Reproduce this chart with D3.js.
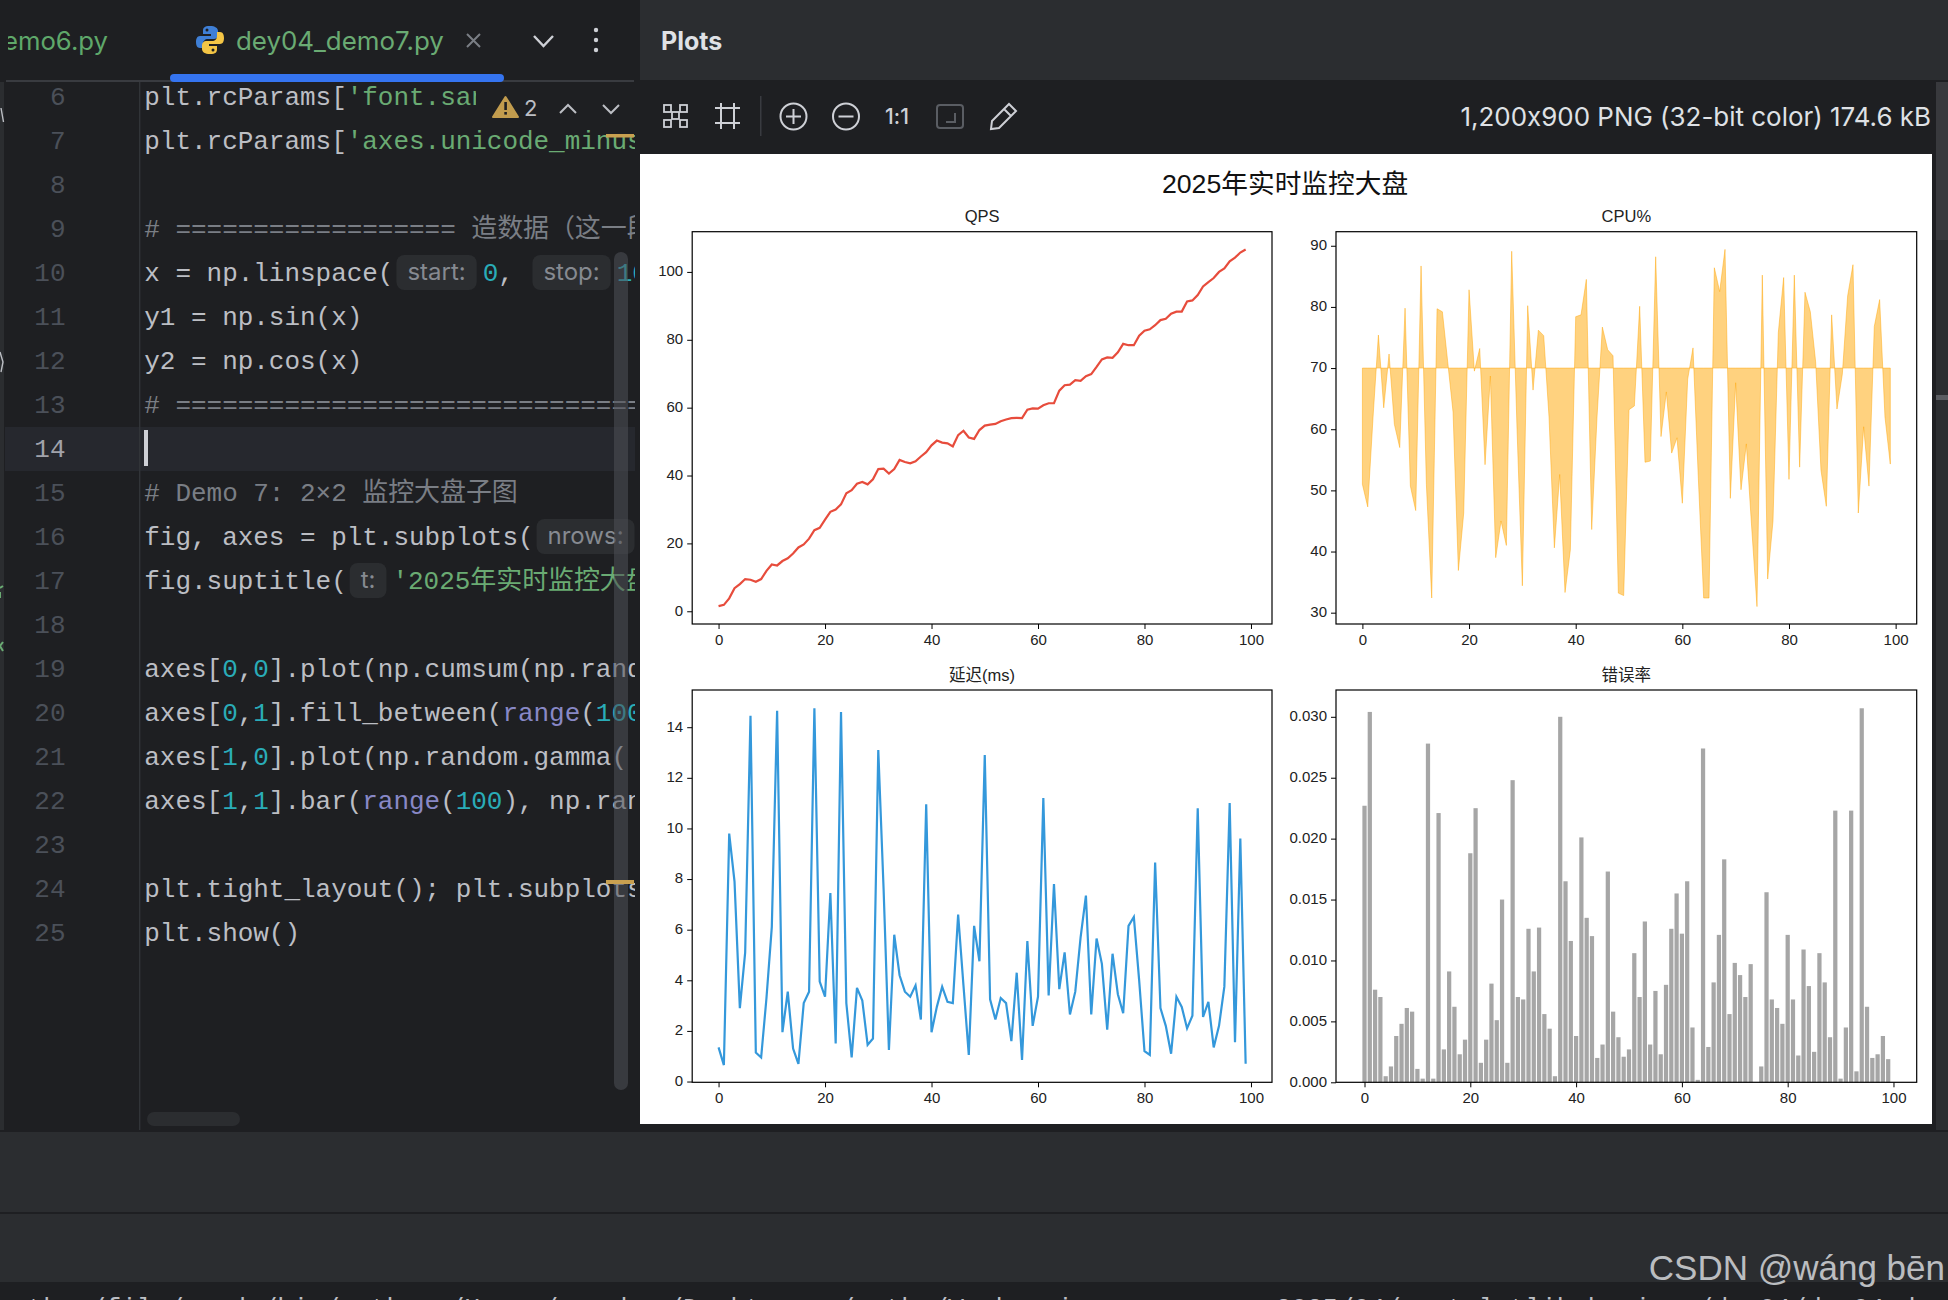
<!DOCTYPE html>
<html>
<head>
<meta charset="utf-8">
<script src="https://cdn.jsdelivr.net/npm/d3@7"></script>
<style>
  html, body { margin: 0; padding: 0; background: #1e1f22; }
  svg { display: block; }
  text { font-family: "Liberation Sans", "Noto Sans CJK SC", sans-serif; }
  .ui { font-family: Inter, "Noto Sans CJK SC", sans-serif; font-feature-settings: "calt" 0; }
  .code { font-family: "Liberation Mono", "Noto Sans CJK SC", monospace; font-size: 26px; }
  .axis path, .axis line { stroke: #000; stroke-width: 1; }
  .axis text { font-size: 15px; fill: #222; font-family: "Liberation Sans", sans-serif; }
</style>
</head>
<body>
<script>
// chart values
const qps = [1.5,1.9,3.8,6.8,8,9.5,9.3,8.7,9.5,11.9,13.8,13.5,14.8,15.6,17,18.8,19.7,21.4,23.9,24.6,27,29.3,30,31.5,34.8,35.7,37.6,38.1,37.4,38.9,41.9,42,40.6,41.9,44.6,44,43.6,44.2,45.6,46.9,48.9,50.3,49.7,49.5,48.6,51.9,53.2,51.2,50.8,53.4,54.7,55,55.2,56,56.5,56.9,57,56.9,59.4,59.8,59.7,60.7,61.3,61.3,65,66.6,66.8,68.1,67.9,69.3,69.9,72,74.2,74.8,74.7,76.3,78.8,78.4,78.4,81.2,82.7,83.1,84.3,85.8,86.2,87.7,88.3,88.3,91.3,91.6,93.2,95.7,97,98.2,100,101,103.1,104.2,105.7,106.6];
const cpu = [51,47.3,62,75.4,63.5,72.3,60.8,57,79.8,50.7,46.7,86.7,51,32.4,79.7,79.2,71,62.8,36.9,46.3,82.8,69.5,73.2,54.2,68.7,39,45,41,89.1,60,34.4,80.2,66.4,76.2,75.3,62,40.6,52.6,33.3,40.3,78.4,78.7,84.5,43.6,62,76.7,73,72,33.2,32.8,63.2,63.8,80.1,54.6,54.8,88.2,58.8,66.1,56.1,58.6,47.9,68.2,73.3,52,32.4,32.4,86.4,82.5,89.4,48.7,67.6,50.1,57.6,44,31,85.2,35.5,45,75.8,84.8,51.8,85.2,53.8,82.4,79.2,71,53.3,47.4,78.7,63.3,69,81.8,86.9,46.3,60.4,50.7,76.8,81.2,62,54.3];
const cpuBase = 70;
const latency = [1.35,0.65,9.8,7.9,2.9,5.1,14.45,1.15,0.95,3.3,6.1,14.65,1.95,3.55,1.3,0.7,3.1,3.55,14.75,3.95,3.35,7.45,1.5,14.6,3.1,0.95,3.7,3.2,1.45,1.7,13.1,7.6,1.25,5.8,4.2,3.55,3.35,3.8,2.45,10.95,1.95,2.95,3.75,3.15,3.1,6.6,3.8,1.05,6.15,4.75,12.9,3.25,2.45,3.3,3.1,1.6,4.3,0.85,5.55,2.2,3.35,11.2,3.4,7.8,3.65,5.1,2.65,3.55,5.7,7.35,2.65,5.65,4.65,2.05,5.05,3.45,2.7,6.15,6.5,4,1.2,1.05,8.65,2.9,2.2,1.1,3.35,2.95,2.1,2.6,10.8,2.55,3.15,1.35,2.2,3.75,11,1.55,9.6,0.7];
const errorRate = [.0227,.0304,.0076,.007,.0005,.0013,.0038,.0048,.0061,.0058,.0011,.0003,.0278,.0003,.0221,.0027,.0091,.0062,.0023,.0035,.0188,.0225,.0016,.0035,.0081,.0051,.015,.0016,.0248,.007,.0068,.0126,.0091,.0127,.0056,.0044,.0005,.03,.0165,.0116,.0038,.0201,.0135,.012,.002,.0031,.0173,.0058,.0037,.0021,.0027,.0106,.007,.0132,.0031,.0075,.0023,.008,.0126,.0155,.0122,.0165,.0045,.0002,.0274,.0029,.0082,.0121,.0183,.0056,.0098,.0088,.007,.0097,0,.0013,.0156,.0068,.0061,.0048,.0121,.0068,.0022,.0109,.0079,.0025,.0106,.0082,.0037,.0223,.0003,.0045,.0223,.0009,.0307,.0062,.002,.0023,.0038,.0019];

const xTicks = [0, 20, 40, 60, 80, 100];
const qpsTicks = [0, 20, 40, 60, 80, 100];
const cpuTicks = [30, 40, 50, 60, 70, 80, 90];
const latencyTicks = [0, 2, 4, 6, 8, 10, 12, 14];
const errorTicks = [0, .005, .01, .015, .02, .025, .03];

const suptitle = "2025年实时监控大盘";
const subTitles = ["QPS", "CPU%", "延迟(ms)", "错误率"];

// editor contents: [line number, [kind, text] ...]
const codeLines = [
  [6, ["d","plt.rcParams["],["s","'font.sans-serif'"]],
  [7, ["d","plt.rcParams["],["s","'axes.unicode_minus'"],["d","] = False"]],
  [8],
  [9, ["c","# ================== 造数据（这一段"]],
  [10, ["d","x = np.linspace("],["h","start:"],["n","0"],["d",", "],["h","stop:"],["n","10"]],
  [11, ["d","y1 = np.sin(x)"]],
  [12, ["d","y2 = np.cos(x)"]],
  [13, ["c","# ====================================="]],
  [14],
  [15, ["c","# Demo 7: 2×2 监控大盘子图"]],
  [16, ["d","fig, axes = plt.subplots("],["h","nrows:"]],
  [17, ["d","fig.suptitle("],["h","t:"],["s","'2025年实时监控大盘'"]],
  [18],
  [19, ["d","axes["],["n","0"],["d",","],["n","0"],["d","].plot(np.cumsum(np.random"]],
  [20, ["d","axes["],["n","0"],["d",","],["n","1"],["d","].fill_between("],["b","range"],["d","("],["n","100"]],
  [21, ["d","axes["],["n","1"],["d",","],["n","0"],["d","].plot(np.random.gamma("]],
  [22, ["d","axes["],["n","1"],["d",","],["n","1"],["d","].bar("],["b","range"],["d","("],["n","100"],["d","), np.random"]],
  [23],
  [24, ["d","plt.tight_layout(); plt.subplots_adjust"]],
  [25, ["d","plt.show()"]]
];
const codeColors = {d: "#bcbec4", s: "#6aab73", n: "#2aacb8", c: "#7a7e85", b: "#8888c6"};
// run console line, only the top of it shows at the window edge
const consoleLine = "ython/file/conda/bin/python /Users/wangben/Desktop_py/pytho/Work_main_env_course_2025/04/_matplotlib_basics_/day04/dey04_demo7.py";

const W = 1948, H = 1300;
const svg = d3.select("body").append("svg").attr("width", W).attr("height", H);
const defs = svg.append("defs");
defs.append("clipPath").attr("id", "codeClip").append("rect").attr("x", 5).attr("y", 82).attr("width", 630).attr("height", 1048);
defs.append("clipPath").attr("id", "line6Clip").append("rect").attr("x", 5).attr("y", 82).attr("width", 471).attr("height", 44);
defs.append("clipPath").attr("id", "tabClip").append("rect").attr("x", 8).attr("y", 0).attr("width", 150).attr("height", 80);

function rect(g, x, y, w, h, fill, rx) {
  return g.append("rect").attr("x", x).attr("y", y).attr("width", w).attr("height", h).attr("fill", fill).attr("rx", rx || 0);
}

// ---- window chrome ----
const chrome = svg.append("g");
rect(chrome, 0, 0, W, H, "#1e1f22");
rect(chrome, 640, 0, W - 640, 80, "#2b2d30");
rect(chrome, 1936, 82, 12, 1048, "#2b2d30");
rect(chrome, 1936, 82, 12, 158, "#38393d");
rect(chrome, 1936, 395, 12, 5, "#5a5c61");
rect(chrome, 0, 1132, W, 80, "#2b2d30");
rect(chrome, 0, 1214, W, 68, "#2b2d30");
rect(chrome, 0, 82, 4, 1048, "#2b2d30");

// tabs
const tabs = svg.append("g");
tabs.append("text").attr("class", "ui").attr("clip-path", "url(#tabClip)").attr("x", 108).attr("y", 50).attr("text-anchor", "end")
  .attr("font-size", 25.7).attr("fill", "#5fa86a").text("demo6.py");
tabs.append("text").attr("class", "ui").attr("x", 236).attr("y", 50).attr("font-size", 25.9).attr("fill", "#6aab73").text("dey04_demo7.py");
// python logo
const logo = tabs.append("g").attr("transform", "translate(196,26)");
logo.append("path").attr("fill", "#3f7fd6").attr("d", "M14 0C8 0 7 2 7 5v3h8v2H4C1 10 0 13 0 16s1 6 4 6h3v-4c0-3 2-5 5-5h6c2 0 4-2 4-4V5c0-3-3-5-8-5z");
logo.append("path").attr("fill", "#f4c545").attr("d", "M14 28c6 0 7-2 7-5v-3h-8v-2h11c3 0 4-3 4-6s-1-6-4-6h-3v4c0 3-2 5-5 5h-6c-2 0-4 2-4 4v4c0 3 3 5 8 5z");
logo.append("circle").attr("cx", 11).attr("cy", 4).attr("r", 1.5).attr("fill", "#1e1f22");
logo.append("circle").attr("cx", 17).attr("cy", 24).attr("r", 1.5).attr("fill", "#1e1f22");
const strokeIcon = (g, d, c, w) => g.append("path").attr("d", d).attr("fill", "none").attr("stroke", c).attr("stroke-width", w || 2);
strokeIcon(tabs, "M467 34L480 47M480 34L467 47", "#7a7e85");
strokeIcon(tabs, "M534 36L543.5 46L553 36", "#ced0d6", 2.4);
[30, 40, 50].forEach(y => tabs.append("circle").attr("cx", 596).attr("cy", y).attr("r", 2.2).attr("fill", "#ced0d6"));
rect(tabs, 6, 80, 628, 2, "#393b40");
rect(tabs, 170, 74, 334, 8, "#3574f0", 4);

// ---- code editor ----
const editor = svg.append("g");
const lineY = n => 97 + 44 * (n - 6);
rect(editor, 5, lineY(14) - 22, 630, 44, "#26282e");
rect(editor, 139, 82, 1.4, 1048, "#313438");

// bits of the neighbouring panel that stick out at the left edge
strokeIcon(editor, "M1 108L3.5 122M0 352L3 362L1 372", "#bcbec4", 1.4);
strokeIcon(editor, "M0 588L3 586M0 592L0 598M3 642L0 646L3 651", "#6aab73", 2);

const cellW = 15.57, cjkW = 25.9;
const isWide = ch => ch.charCodeAt(0) > 0x2e7f;
const codeGroup = editor.append("g");
codeLines.forEach(row => {
  const n = row[0], y = lineY(n);
  editor.append("text").attr("class", "code").attr("x", 65.5).attr("y", y + 8).attr("text-anchor", "end")
    .attr("fill", n == 14 ? "#a1a3ab" : "#4b5059").text(n);
  const g = codeGroup.append("g").attr("clip-path", n == 6 ? "url(#line6Clip)" : "url(#codeClip)");
  let x = 144.3;
  row.slice(1).forEach(tok => {
    if (tok[0] == "h") {
      const label = g.append("text").attr("class", "ui").attr("y", y + 7).attr("font-size", 24).attr("fill", "#868a91").text(tok[1]);
      const w = label.node().getComputedTextLength() + 22;
      g.insert("rect", "text:last-child").attr("x", x + 3).attr("y", y - 18).attr("width", w).attr("height", 35).attr("rx", 8).attr("fill", "#2b2d30");
      label.attr("x", x + 14);
      x += w + 9;
      return;
    }
    // each char placed on the grid, CJK takes its own width
    Array.from(tok[1]).forEach(ch => {
      g.append("text").attr("class", "code").attr("x", x).attr("y", y + 7.5).attr("fill", codeColors[tok[0]]).text(ch);
      x += isWide(ch) ? cjkW : cellW;
    });
  });
});
rect(editor, 144, 430, 4, 36, "#ced0d6");
rect(editor, 614, 252, 14, 838, "#4e5157", 7).attr("opacity", 0.55);
rect(editor, 606, 134, 28, 3.5, "#c9a050");
rect(editor, 606, 880, 28, 4, "#c9a050");
rect(editor, 147, 1112, 93, 14, "#2b2d30", 7);

// warning widget
const warn = editor.append("g");
warn.append("path").attr("d", "M505.5 97L518 117H493Z").attr("fill", "#c29c4e").attr("stroke", "#c29c4e").attr("stroke-width", 2).attr("stroke-linejoin", "round");
rect(warn, 504.3, 102, 2.6, 8, "#1e1f22");
rect(warn, 504.3, 112, 2.6, 2.6, "#1e1f22");
warn.append("text").attr("class", "ui").attr("x", 524).attr("y", 116).attr("font-size", 22).attr("fill", "#bcbec4").text("2");
strokeIcon(warn, "M560 113L568 105L576 113", "#bcbec4", 2);
strokeIcon(warn, "M603 105L611 113L619 105", "#bcbec4", 2);

// ---- plots tool window ----
const plotsHead = svg.append("g");
plotsHead.append("text").attr("class", "ui").attr("x", 661).attr("y", 50).attr("font-size", 25).attr("font-weight", 700).attr("fill", "#dfe1e5").text("Plots");
plotsHead.append("text").attr("class", "ui").attr("x", 1931).attr("y", 126).attr("text-anchor", "end").attr("font-size", 25.95).attr("fill", "#dfe1e5")
  .text("1,200x900 PNG (32-bit color) 174.6 kB");
const ic = "#ced0d6";
[[664,105],[680,105],[672,112],[664,120],[680,120]].forEach(p => {
  plotsHead.append("rect").attr("x", p[0]).attr("y", p[1]).attr("width", 7).attr("height", 7).attr("fill", "none").attr("stroke", ic).attr("stroke-width", 1.8);
});
strokeIcon(plotsHead, "M721 103V129M734 103V129M715 108H740M715 123H740", ic);
rect(plotsHead, 760, 96, 1.5, 40, "#393b40");
plotsHead.append("circle").attr("cx", 793.5).attr("cy", 116.5).attr("r", 13).attr("fill", "none").attr("stroke", ic).attr("stroke-width", 2);
strokeIcon(plotsHead, "M786 116.5H801M793.5 109V124", ic);
plotsHead.append("circle").attr("cx", 846).attr("cy", 116.5).attr("r", 13).attr("fill", "none").attr("stroke", ic).attr("stroke-width", 2);
strokeIcon(plotsHead, "M838.5 116.5H853.5", ic);
plotsHead.append("text").attr("class", "ui").attr("x", 897).attr("y", 124).attr("text-anchor", "middle").attr("font-size", 21).attr("font-weight", 500).attr("fill", ic).text("1:1");
plotsHead.append("rect").attr("x", 937).attr("y", 105).attr("width", 26).attr("height", 23).attr("rx", 3).attr("fill", "none").attr("stroke", "#5a5d63").attr("stroke-width", 2);
strokeIcon(plotsHead, "M946 122H955V113", "#5a5d63");
strokeIcon(plotsHead, "M1009 104L1016 111L999 128L991 129L992 121ZM1004 109L1011 116", ic);

// ---- the image itself ----
rect(svg, 640, 154, 1292, 970, "#fff");
svg.append("text").attr("x", 1285).attr("y", 192.5).attr("text-anchor", "middle").attr("font-size", 26.7).attr("fill", "#111").text(suptitle);

const xDomain = [-4.95, 103.95];
const leftX = [692.2, 1272], rightX = [1336, 1916.7];
const topY = [624, 231.7], botY = [1082.3, 690];

function makeAxes(xRange, yRange, xDom, yDom, yTicks, yFormat, title) {
  const g = svg.append("g");
  const x = d3.scaleLinear().domain(xDom).range(xRange);
  const y = d3.scaleLinear().domain(yDom).range(yRange);
  const ax = g.append("g").attr("class", "axis").attr("transform", `translate(0,${yRange[0]})`)
    .call(d3.axisBottom(x).tickValues(xTicks).tickFormat(d3.format("d")).tickSize(5).tickPadding(5));
  const ay = g.append("g").attr("class", "axis").attr("transform", `translate(${xRange[0]},0)`)
    .call(d3.axisLeft(y).tickValues(yTicks).tickFormat(yFormat).tickSize(5).tickPadding(4));
  ax.select(".domain").remove();
  ay.select(".domain").remove();
  ay.selectAll("text").attr("dy", "0.26em");
  g.append("text").attr("x", (xRange[0] + xRange[1]) / 2).attr("y", yRange[1] - 9.5).attr("text-anchor", "middle")
    .attr("font-size", 16.5).attr("fill", "#222").text(title);
  const plot = g.append("g");
  g.append("rect").attr("x", xRange[0]).attr("y", yRange[1]).attr("width", xRange[1] - xRange[0]).attr("height", yRange[0] - yRange[1])
    .attr("fill", "none").attr("stroke", "#000").attr("stroke-width", 1.2);
  return {x, y, plot};
}

// QPS
const a1 = makeAxes(leftX, topY, xDomain, [-3.75, 111.85], qpsTicks, d3.format("d"), subTitles[0]);
a1.plot.append("path").datum(qps)
  .attr("d", d3.line().x((d, i) => a1.x(i)).y(d => a1.y(d)))
  .attr("fill", "none").attr("stroke", "#e74c3c").attr("stroke-width", 2.2);

// CPU%
const a2 = makeAxes(rightX, topY, xDomain, [28.15, 92.3], cpuTicks, d3.format("d"), subTitles[1]);
a2.plot.append("path").datum(cpu)
  .attr("d", d3.area().x((d, i) => a2.x(i)).y0(a2.y(cpuBase)).y1(d => a2.y(d)))
  .attr("fill", "#ffa500").attr("fill-opacity", 0.5).attr("stroke", "#ffa500").attr("stroke-opacity", 0.45);

// latency
const a3 = makeAxes(leftX, botY, xDomain, [-0.03, 15.47], latencyTicks, d3.format("d"), subTitles[2]);
a3.plot.append("path").datum(latency)
  .attr("d", d3.line().x((d, i) => a3.x(i)).y(d => a3.y(d)))
  .attr("fill", "none").attr("stroke", "#3498db").attr("stroke-width", 2.2);

// error rate
const a4 = makeAxes(rightX, botY, [-5.39, 104.39], [0, 0.0322], errorTicks, d3.format(".3f"), subTitles[3]);
a4.plot.selectAll("rect").data(errorRate).join("rect")
  .attr("x", (d, i) => a4.x(i - 0.4))
  .attr("width", a4.x(0.8) - a4.x(0))
  .attr("y", d => a4.y(d))
  .attr("height", d => a4.y(0) - a4.y(d))
  .attr("fill", "#808080").attr("fill-opacity", 0.7);

// console line and watermark
svg.append("text").attr("class", "code").attr("x", 12).attr("y", 1316).attr("fill", "#bcbec4").text(consoleLine);
svg.append("text").attr("x", 1945).attr("y", 1280).attr("text-anchor", "end").attr("font-size", 35).attr("fill", "#bbbdc0").text("CSDN @wáng bēn");
</script>
</body>
</html>
